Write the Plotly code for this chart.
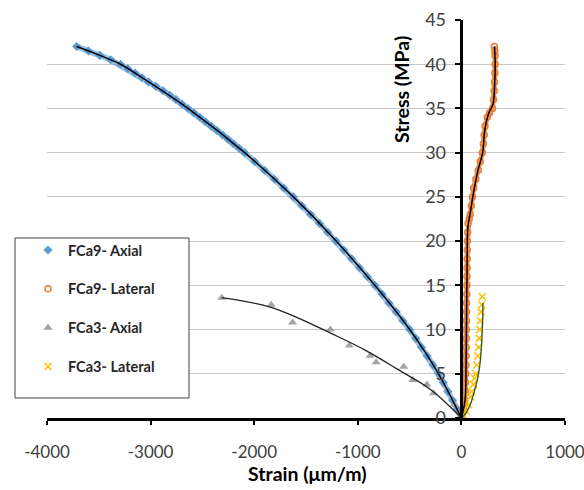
import plotly.graph_objects as go

# ---------------- data ----------------
fca9_ax_strain = [0, -40, -85, -130, -175, -221, -275, -330, -385, -440, -499, -565, -630, -700, -765,
                  -835, -910, -985, -1060, -1135, -1209, -1290, -1370, -1455, -1540, -1622, -1715, -1805,
                  -1900, -1995, -2092, -2145, -2200, -2252, -2305, -2360, -2415, -2470, -2525, -2582,
                  -2639, -2697, -2755, -2815, -2880, -2950, -3020, -3085, -3150, -3220, -3290, -3385,
                  -3490, -3600, -3714]
fca9_ax_stress = [0, 1, 2, 3, 4, 5, 6, 7, 8, 9, 10, 11, 12, 13, 14, 15, 16, 17, 18, 19, 20, 21, 22, 23,
                  24, 25, 26, 27, 28, 29, 30, 30.5, 31, 31.5, 32, 32.5, 33, 33.5, 34, 34.5, 35, 35.5,
                  36, 36.5, 37, 37.5, 38, 38.5, 39, 39.5, 40, 40.5, 41, 41.5, 42]
fca9_ax_fit_strain = [0, -221, -499, -835, -1209, -1622, -2092, -2639, -3020, -3290, -3490, -3714]
fca9_ax_fit_stress = [0, 5, 10, 15, 20, 25, 30, 35, 38, 40, 41, 42]

fca9_lat_strain = [0, 10, 20, 28, 33, 38, 40, 42, 44, 45, 46, 47, 48, 49, 50, 50, 52, 53, 54, 55, 56,
                   57, 58, 60, 64, 75, 85, 95, 106, 118, 140, 163, 182, 202, 212, 220, 228, 250, 272,
                   300, 310, 317, 320, 323, 326, 325, 322, 318]
fca9_lat_stress = [0, 0.5, 1, 1.5, 2, 3, 4, 5, 6, 7, 8, 9, 10, 11, 12, 13, 14, 15, 16, 17, 18, 19, 20,
                   21, 22, 22.5, 23, 24, 25, 26, 27, 28, 29, 30, 31, 32, 33, 34, 34.5, 35, 36, 37, 38,
                   39, 40, 41, 41.5, 42]
fca9_lat_fit_strain = [0, 35, 45, 50, 56, 62, 90, 110, 160, 205, 225, 265, 305, 322, 326, 320]
fca9_lat_fit_stress = [0, 2, 6, 12, 18, 21.5, 23.5, 25, 28, 30, 32.5, 34.5, 35.5, 38, 40, 42]

fca3_ax_strain = [-2313, -1836, -1629, -1265, -1083, -881, -823, -556, -470, -333, -269, -70, 0]
fca3_ax_stress = [13.6, 12.8, 10.8, 10.0, 8.2, 7.05, 6.3, 5.8, 4.3, 3.8, 2.8, 1.5, 0]
fca3_ax_fit_strain = [-2313, -1862, -1574, -1263, -934, -614, -295, 0]
fca3_ax_fit_stress = [13.6, 12.6, 11.3, 9.6, 7.7, 5.5, 3.2, 0]

fca3_lat_strain = [0, 20, 45, 70, 88, 100, 115, 128, 138, 148, 158, 166, 172, 176, 182, 190, 196, 202]
fca3_lat_stress = [0, 0.3, 0.8, 1.5, 2.4, 3, 3.8, 4.5, 5, 6, 7, 8, 9, 10, 11, 12, 12.8, 13.7]
fca3_lat_fit_strain = [0, 40, 85, 125, 154, 178, 193, 201, 206, 208]
fca3_lat_fit_stress = [0, 0.5, 1.5, 3, 4.3, 6, 8, 10, 11.5, 13]

x_ticks = [-4000, -3000, -2000, -1000, 0, 1000]
y_ticks = [0, 5, 10, 15, 20, 25, 30, 35, 40, 45]
series_names = ["FCa9- Axial", "FCa9- Lateral", "FCa3- Axial", "FCa3- Lateral"]

BLUE = "#5B9BD5"
ORANGE = "#ED7D31"
GRAY = "#A5A5A5"
YELLOW = "#FFC000"
FONT = "Lato"

fig = go.Figure()

# bands (no legend)
fig.add_trace(go.Scatter(x=fca9_ax_strain, y=fca9_ax_stress, mode="lines", line=dict(color=BLUE, width=6),
                         opacity=0.6, showlegend=False, legendgroup="g1", hoverinfo="skip"))
fig.add_trace(go.Scatter(x=fca9_lat_strain, y=fca9_lat_stress, mode="lines", line=dict(color=ORANGE, width=5),
                         opacity=0.8, showlegend=False, legendgroup="g2", hoverinfo="skip"))

# markers
fig.add_trace(go.Scatter(x=fca9_ax_strain, y=fca9_ax_stress, mode="markers", name=series_names[0],
                         legendgroup="g1",
                         marker=dict(symbol="diamond", size=7, color=BLUE)))
fig.add_trace(go.Scatter(x=fca9_lat_strain, y=fca9_lat_stress, mode="markers", name=series_names[1],
                         legendgroup="g2",
                         marker=dict(symbol="circle-open", size=6, color=ORANGE, line=dict(width=1.5, color=ORANGE))))
fig.add_trace(go.Scatter(x=fca3_ax_strain, y=fca3_ax_stress, mode="markers", name=series_names[2],
                         legendgroup="g3",
                         marker=dict(symbol="triangle-up", size=8, color=GRAY)))
fig.add_trace(go.Scatter(x=fca3_lat_strain, y=fca3_lat_stress, mode="markers", name=series_names[3],
                         legendgroup="g4",
                         marker=dict(symbol="x-thin", size=7, color=YELLOW, line=dict(width=1.5, color=YELLOW))))

# fit lines
fig.add_trace(go.Scatter(x=fca9_ax_fit_strain, y=fca9_ax_fit_stress, mode="lines", line=dict(color="black", width=1.5, shape="spline"),
                         showlegend=False, legendgroup="g1", hoverinfo="skip"))
fig.add_trace(go.Scatter(x=fca9_lat_fit_strain, y=fca9_lat_fit_stress, mode="lines", line=dict(color="black", width=1.5, shape="spline"),
                         showlegend=False, legendgroup="g2", hoverinfo="skip"))
fig.add_trace(go.Scatter(x=fca3_ax_fit_strain, y=fca3_ax_fit_stress, mode="lines", line=dict(color="#222222", width=1.3, shape="spline"),
                         showlegend=False, legendgroup="g3", hoverinfo="skip"))
fig.add_trace(go.Scatter(x=fca3_lat_fit_strain, y=fca3_lat_fit_stress, mode="lines", line=dict(color="#2E5A1C", width=1.3, shape="spline"),
                         showlegend=False, legendgroup="g4", hoverinfo="skip"))

W, H = 584, 490
ml, mr, mt, mb = 47, 19, 20, 72
pw, ph = W - ml - mr, H - mt - mb

def px_x(p):
    return (p - ml) / pw

def px_y(p):
    return (H - mb - p) / ph

fig.update_layout(
    width=W, height=H,
    margin=dict(l=ml, r=mr, t=mt, b=mb, autoexpand=False),
    paper_bgcolor="white", plot_bgcolor="white",
    font=dict(family=FONT, color="#404040"),
    xaxis=dict(range=[-4000, 1000], tickvals=x_ticks, ticktext=[str(v) for v in x_ticks],
               showgrid=False, zeroline=False, showline=True, linecolor="black", linewidth=2.5,
               ticks="outside", ticklen=4, tickwidth=2, tickcolor="black",
               tickfont=dict(size=17, color="#404040", family=FONT), ticklabelstandoff=13,
               ticklabeloverflow="allow", automargin=False),
    yaxis=dict(range=[0, 45], tickvals=y_ticks, anchor="free", position=0.8,
               showgrid=True, gridcolor="#C8C8C8", gridwidth=1, zeroline=False,
               showline=True, linecolor="black", linewidth=2.5,
               ticks="outside", ticklen=6, tickwidth=2, tickcolor="black",
               tickfont=dict(size=18, color="#404040", family=FONT), ticklabelstandoff=5,
               automargin=False),
    showlegend=True,
    legend=dict(x=px_x(28), y=px_y(234), xanchor="left", yanchor="top",
                bgcolor="rgba(0,0,0,0)", borderwidth=0,
                traceorder="grouped", tracegroupgap=17,
                font=dict(size=14.5, color="#262626", family=FONT, weight="bold")),
    shapes=[dict(type="rect", xref="paper", yref="paper", layer="above",
                 x0=px_x(15), x1=px_x(189), y0=px_y(398), y1=px_y(238),
                 fillcolor="white", line=dict(color="#404040", width=1))],
    annotations=[
        dict(text="<b>Stress (MPa)</b>", textangle=-90, xref="paper", yref="paper",
             x=px_x(401), y=px_y(90), xanchor="center", yanchor="middle",
             showarrow=False, font=dict(size=19.5, color="black", family=FONT)),
        dict(text="<b>Strain (μm/m)</b>", xref="paper", yref="paper",
             x=px_x(307), y=px_y(473), xanchor="center", yanchor="middle",
             showarrow=False, font=dict(size=19.5, color="black", family=FONT)),
    ],
)

fig.write_html("out.html")
